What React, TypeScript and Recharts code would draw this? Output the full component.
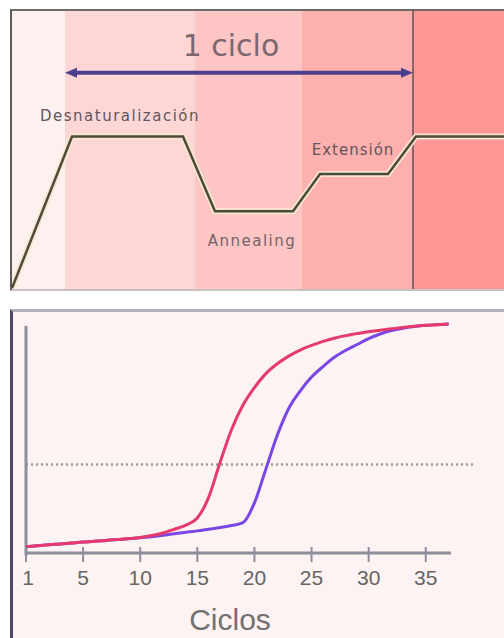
import {
  Line,
  LineChart,
  ReferenceArea,
  ReferenceDot,
  ReferenceLine,
  XAxis,
  YAxis,
} from "recharts";

// top panel: temperature profile of one PCR cycle (time in arbitrary units, °C)
const PROFILE_TIME = [0, 15, 42.75, 50.75, 70.25, 77, 94, 101, 123];
const PROFILE_TEMP = [14, 95, 95, 55, 55, 75, 75, 95, 95];

const STAGE_EDGES = [0, 13.25, 45.75, 72.5, 100.25, 123];
const STAGE_FILLS = ["#fdf1f0", "#fdd7d6", "#fdc5c4", "#fdb0ae", "#fd9896"];

const CYCLE_START = 13.25;
const CYCLE_END = 100.25;

// bottom panel: amplification curves
const CYCLES = [
  0, 1, 2, 3, 4, 5, 6, 7, 8, 9, 10, 11, 12, 13, 14, 15, 16, 17, 18, 19, 20, 21,
  22, 23, 24, 25, 26, 27, 28, 29, 30, 31, 32, 33, 34, 35, 36, 37,
];
const SAMPLE_A = [
  2.7, 3.1, 3.5, 3.9, 4.3, 4.7, 5.0, 5.4, 5.8, 6.2, 6.7, 7.5, 8.6, 10.2, 12.0,
  15.0, 24, 39, 53, 63.5, 71, 77, 81.2, 84.5, 87.1, 89.1, 90.8, 92.2, 93.3,
  94.2, 95.0, 95.6, 96.2, 96.8, 97.3, 97.7, 98.0, 98.3,
];
const SAMPLE_B = [
  2.7, 3.1, 3.5, 3.9, 4.3, 4.7, 5.0, 5.4, 5.8, 6.1, 6.5, 7.0, 7.6, 8.3, 8.9, 9.5,
  10.2, 10.9, 11.8, 13.0, 21.5, 36, 50.5, 62, 69.5, 75.5, 80, 84, 87, 89.5, 92,
  94, 95.5, 96.5, 97.2, 97.7, 98.0, 98.3,
];
const THRESHOLD = 38;

const TICK_VALUES = [0, 5, 10, 15, 20, 25, 30, 35];
const TICK_LABELS = ["1", "5", "10", "15", "20", "25", "30", "35"];

const profileData = PROFILE_TIME.map((t, i) => ({ t, temp: PROFILE_TEMP[i] }));
const curveData = CYCLES.map((cycle, i) => ({
  cycle,
  a: SAMPLE_A[i],
  b: SAMPLE_B[i],
}));

const LABEL_FONT = "'DejaVu Sans', sans-serif";
const AXIS_FONT = "'Liberation Sans', Arial, sans-serif";
const AXIS_GRAY = "#8f8c9c";

const textTag =
  (text: string, size: number, color: string, spacing = 0) =>
  (props: any) => {
    const vb = props.viewBox || {};
    const x = (vb.x ?? 0) + (vb.width ?? 0) / 2;
    const y = (vb.y ?? 0) + (vb.height ?? 0) / 2;
    return (
      <text
        x={x}
        y={y}
        dy={size * 0.36}
        textAnchor="middle"
        fontSize={size}
        fontFamily={LABEL_FONT}
        fill={color}
        letterSpacing={spacing}
      >
        {text}
      </text>
    );
  };

const ArrowShape = (p: any) => {
  const { x1, y1, x2, y2 } = p;
  const c = "#4c3f8e";
  return (
    <g>
      <line x1={x1 + 8} y1={y1} x2={x2 - 8} y2={y2} stroke={c} strokeWidth={4} />
      <polygon points={`${x1},${y1} ${x1 + 12},${y1 - 5} ${x1 + 12},${y1 + 5}`} fill={c} />
      <polygon points={`${x2},${y2} ${x2 - 12},${y2 - 5} ${x2 - 12},${y2 + 5}`} fill={c} />
    </g>
  );
};

const CycleTick = (props: any) => {
  const { x, y, payload } = props;
  const label = TICK_LABELS[TICK_VALUES.indexOf(payload.value)];
  return (
    <g>
      <line x1={x} x2={x} y1={y - 6} y2={y + 9} stroke={AXIS_GRAY} strokeWidth={2} />
      <text
        x={x + (payload.value === 0 ? 2 : 0)}
        y={y + 32}
        textAnchor="middle"
        fontSize={21}
        fontFamily={AXIS_FONT}
        fill="#666464"
      >
        {label}
      </text>
    </g>
  );
};

const CiclosLabel = (props: any) => {
  const vb = props.viewBox || { x: 26, y: 553 };
  return (
    <text
      x={vb.x + 204}
      y={vb.y + 77}
      textAnchor="middle"
      fontSize={30}
      fontFamily={AXIS_FONT}
      fill="#727070"
    >
      Ciclos
    </text>
  );
};

export default function App() {
  return (
    <div
      style={{
        position: "absolute",
        left: 0,
        top: 0,
        width: 504,
        height: 638,
        background: "#ffffff",
        overflow: "hidden",
      }}
    >
      {/* top panel */}
      <div style={{ position: "absolute", left: 0, top: 0 }}>
        <LineChart
          width={504}
          height={290}
          data={profileData}
          margin={{ top: 11, right: 0, bottom: 0, left: 12 }}
        >
          <XAxis type="number" dataKey="t" domain={[0, 123]} hide />
          <YAxis type="number" domain={[13, 162]} hide />
          {STAGE_FILLS.map((fill, i) => (
            <ReferenceArea
              key={i}
              x1={STAGE_EDGES[i]}
              x2={STAGE_EDGES[i + 1]}
              fill={fill}
              fillOpacity={1}
              stroke="none"
            />
          ))}
          <ReferenceLine x={CYCLE_END} stroke="#6e4b52" strokeWidth={1.5} />
          <ReferenceLine
            segment={[
              { x: CYCLE_START, y: 129 },
              { x: CYCLE_END, y: 129 },
            ]}
            shape={ArrowShape}
          />
          <Line
            dataKey="temp"
            type="linear"
            stroke="#f8e6cf"
            strokeWidth={6}
            dot={false}
            isAnimationActive={false}
          />
          <Line
            dataKey="temp"
            type="linear"
            stroke="#4e4a3a"
            strokeWidth={2.5}
            dot={false}
            isAnimationActive={false}
          />
          <ReferenceDot x={54.75} y={143.5} r={0} fill="none" stroke="none" label={textTag("1 ciclo", 30, "#7d676f")} />
          <ReferenceDot x={27} y={106} r={0} fill="none" stroke="none" label={textTag("Desnaturalización", 15, "#64555c", 1.5)} />
          <ReferenceDot x={60} y={39.2} r={0} fill="none" stroke="none" label={textTag("Annealing", 15, "#74646a", 1.5)} />
          <ReferenceDot x={85.25} y={87.8} r={0} fill="none" stroke="none" label={textTag("Extensión", 15, "#64555c", 1)} />
        </LineChart>
      </div>
      <div
        style={{
          position: "absolute",
          left: 10,
          top: 9,
          width: 494,
          height: 282,
          borderLeft: "2px solid #5c5858",
          borderTop: "2px solid #6d6a6a",
          borderBottom: "2px solid #c9c1c1",
          boxSizing: "border-box",
          pointerEvents: "none",
        }}
      />

      {/* bottom panel */}
      <div
        style={{
          position: "absolute",
          left: 10,
          top: 309,
          width: 494,
          height: 329,
          background: "#fdf3f2",
          borderTop: "3px solid #b3afbb",
          borderLeft: "3px solid #4e4868",
          boxSizing: "border-box",
        }}
      />
      <div style={{ position: "absolute", left: 0, top: 300 }}>
        <LineChart
          width={504}
          height={338}
          data={curveData}
          margin={{ top: 20, right: 28, bottom: 0, left: 26 }}
        >
          <XAxis
            type="number"
            dataKey="cycle"
            domain={[0, 39.4]}
            ticks={TICK_VALUES}
            interval={0}
            tick={CycleTick}
            axisLine={false}
            tickLine={false}
            tickSize={0}
            tickMargin={0}
            height={85}
            label={{ content: CiclosLabel }}
          />
          <YAxis type="number" domain={[0, 100]} hide />
          <ReferenceLine
            y={THRESHOLD}
            stroke="#a39999"
            strokeWidth={2.5}
            strokeDasharray="2 3"
          />
          <ReferenceLine
            segment={[
              { x: 0, y: 0 },
              { x: 37.2, y: 0 },
            ]}
            stroke={AXIS_GRAY}
            strokeWidth={3}
            ifOverflow="visible"
          />
          <ReferenceLine
            segment={[
              { x: 0, y: -1 },
              { x: 0, y: 97.5 },
            ]}
            stroke={AXIS_GRAY}
            strokeWidth={3}
            ifOverflow="visible"
          />
          <Line
            dataKey="b"
            type="monotone"
            stroke="#7a46e4"
            strokeWidth={3}
            dot={false}
            isAnimationActive={false}
          />
          <Line
            dataKey="a"
            type="monotone"
            stroke="#e63a6c"
            strokeWidth={3}
            dot={false}
            isAnimationActive={false}
          />
        </LineChart>
      </div>
    </div>
  );
}
